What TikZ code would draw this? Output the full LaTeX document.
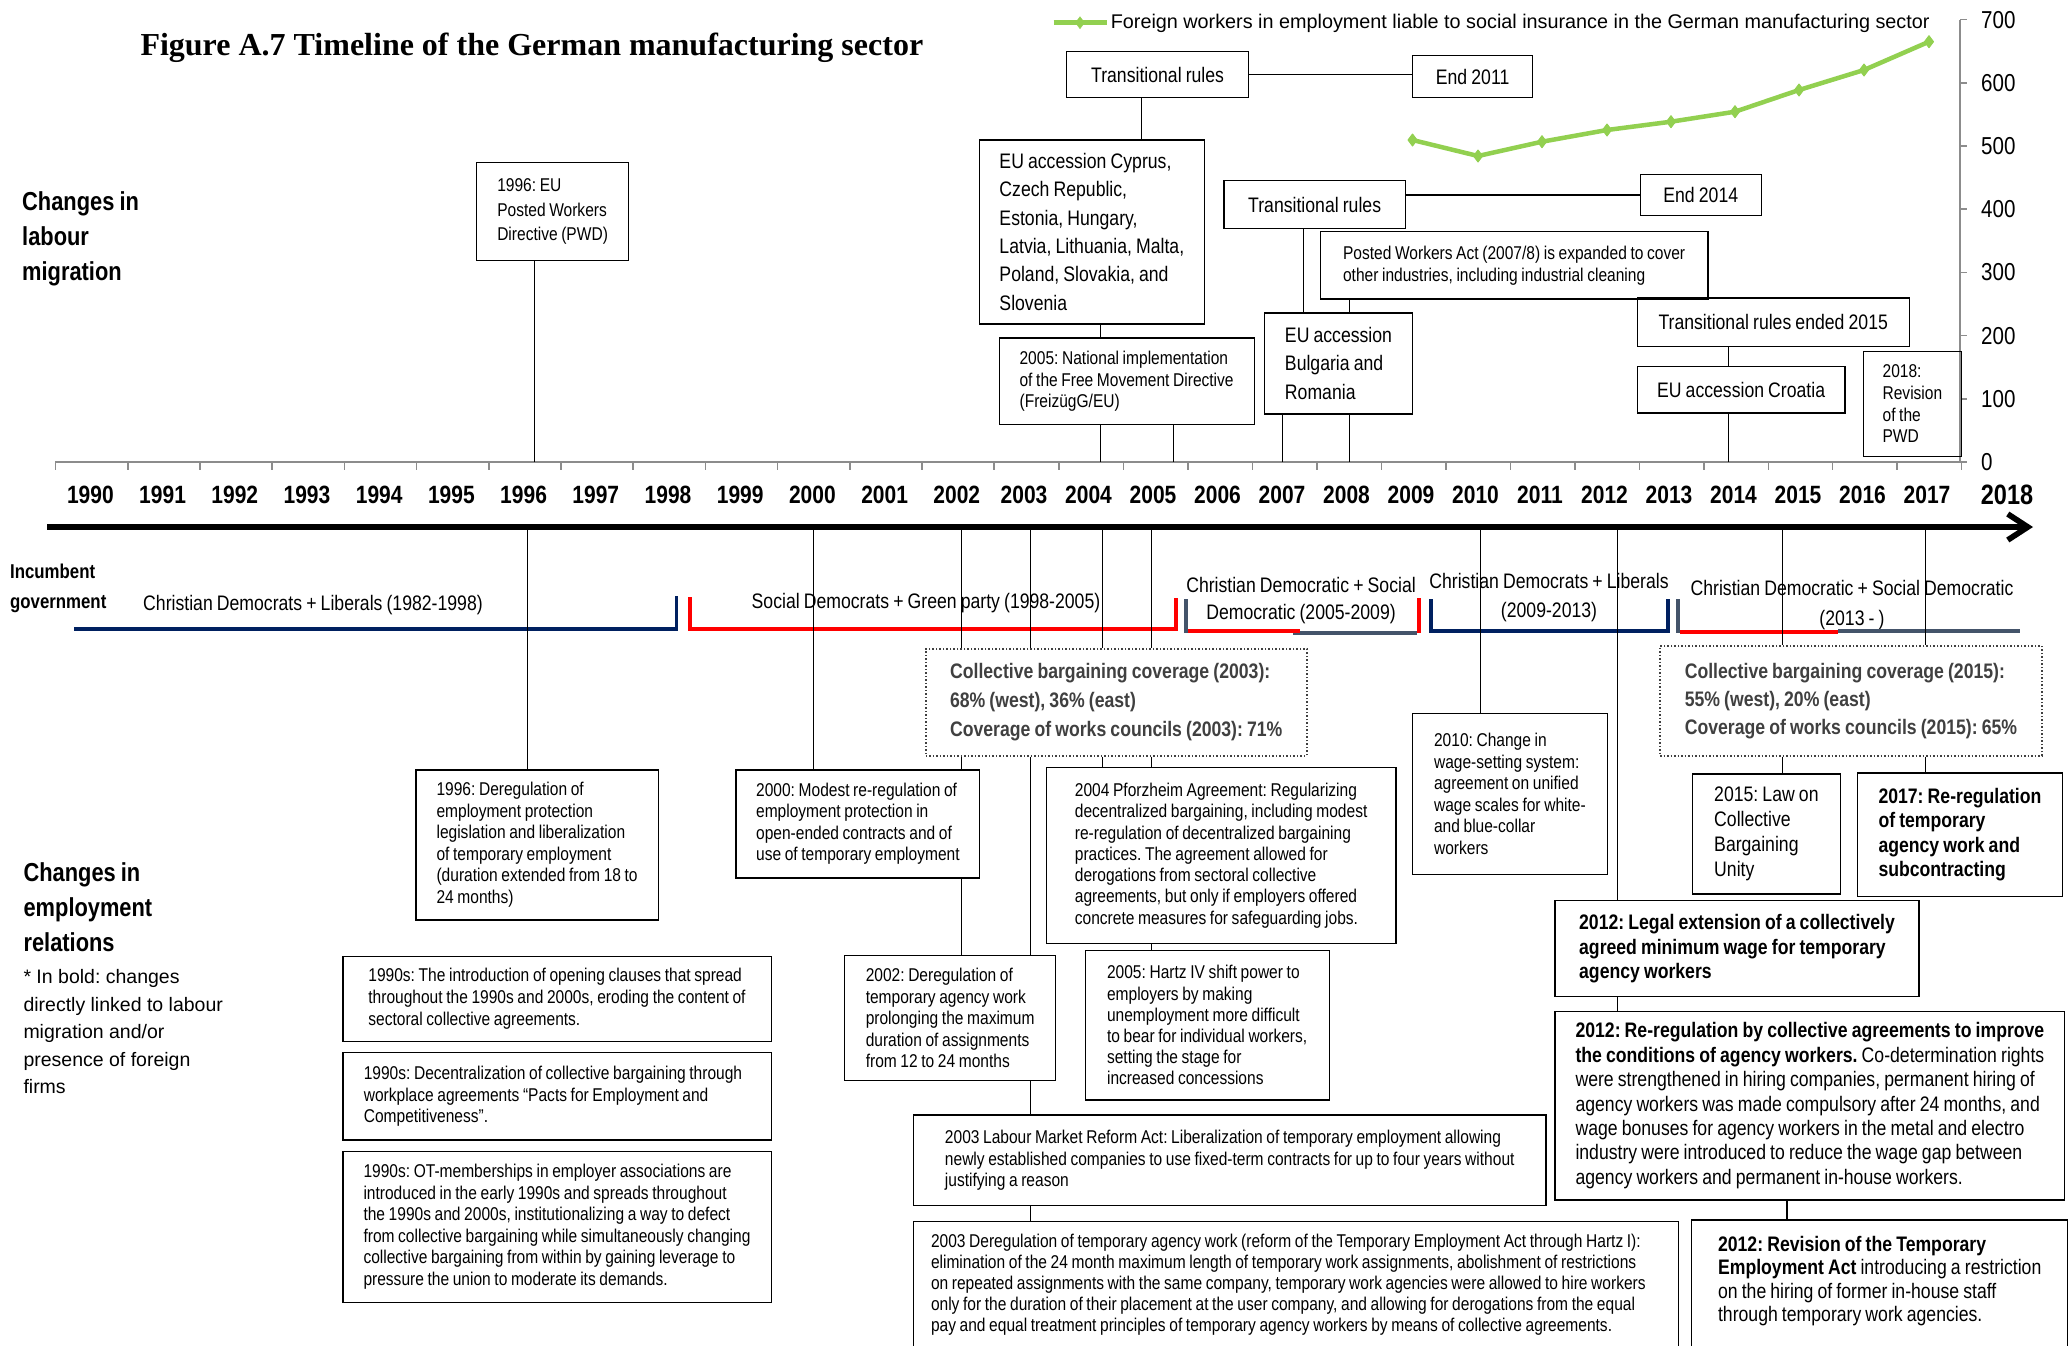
\documentclass[tikz,border=0pt]{standalone}
\usepackage{fontspec}
\newfontfamily\nar{Liberation Sans}[FakeStretch=0.84, WordSpace=0.84]
\newfontfamily\arl{Liberation Sans}
\newfontfamily\tnr{Liberation Serif}
\usetikzlibrary{arrows.meta,plotmarks}
\definecolor{navyg}{HTML}{002060}
\definecolor{redg}{HTML}{FF0000}
\definecolor{slateg}{HTML}{44546A}
\definecolor{greenl}{HTML}{92D050}
\definecolor{axgrey}{HTML}{8C8C8C}
\definecolor{dgrey}{HTML}{404040}
\newcommand{\myfs}[2]{\fontsize{#1}{#2}\selectfont}
\begin{document}
\frenchspacing
\hyphenpenalty=10000
\exhyphenpenalty=10000
\begin{tikzpicture}[x=1pt,y=-1pt,
  bx/.style={draw=black, line width=1.2pt, inner sep=0pt, anchor=north west, align=left},
  cbx/.style={draw=black, line width=1.2pt, inner sep=0pt, anchor=north west, align=center},
  dbx/.style={draw=black!75, dotted, line width=1.5pt, inner sep=0pt, anchor=north west, align=left, text=dgrey},
  conn/.style={draw=black, line width=1pt},
  sm/.style={font=\nar\myfs{18.5}{21.5}},
  md/.style={font=\nar\myfs{21}{28.3}},
  bd/.style={font=\nar\bfseries\myfs{21}{24.4}},
  gov/.style={line width=3.7pt},
  lbl/.style={anchor=west, align=left, inner sep=0pt},
]
\fill[white] (0,0) rectangle (2069,1345);
\useasboundingbox (0,0) rectangle (2069,1345);

% ---------- title and left labels
\node[lbl, font=\tnr\bfseries\myfs{32}{38}] (title) at (140.3,48) {Figure A.7 Timeline of the German manufacturing sector};
\node[lbl, font=\nar\bfseries\myfs{26}{35}] (lab1) at (22,239) {Changes in\\labour\\migration};
\node[lbl, font=\nar\bfseries\myfs{26}{35}] (lab2) at (23.4,906.7) {Changes in\\employment\\relations};
\node[lbl, font=\arl\myfs{19.5}{27.4}] (lab3) at (23.3,1031.7) {* In bold: changes\\directly linked to labour\\migration and/or\\presence of foreign\\firms};
\node[lbl, font=\nar\bfseries\myfs{20}{30}] (lab4) at (10,588) {Incumbent\\government};

% ---------- axis with ticks
\coordinate (axL) at (55,462);
\coordinate (axR) at (1961,462);
\draw[axgrey, line width=2pt] (axL) -- (axR);
\foreach \i in {0,...,13} \draw[axgrey, line width=1.5pt] ({55.6+72.2*\i},462) -- ({55.6+72.2*\i},470);
\foreach \i in {1,...,15} \draw[axgrey, line width=1.5pt] ({994.6+64.47*\i},462) -- ({994.6+64.47*\i},470);
\foreach \i in {0,...,12} {
  \pgfmathtruncatemacro\yr{1990+\i}
  \node[font=\nar\bfseries\myfs{25}{30}] (ya\i) at ({90.4+72.2*\i},495) {\yr};
}
\foreach \i in {0,...,14} {
  \pgfmathtruncatemacro\yr{2003+\i}
  \node[font=\nar\bfseries\myfs{25}{30}] (yb\i) at ({1024+64.5*\i},495) {\yr};
}
\node[font=\nar\bfseries\myfs{28}{32}] (y2018) at (2007,495) {2018};

% ---------- main arrow
\coordinate (arrL) at (47,527);
\coordinate (arrR) at (2033,527);
\draw[line width=5.7pt, -{Straight Barb[length=20pt,width=26pt]}] (arrL) -- (arrR);

% ---------- value axis and chart
\draw[axgrey, line width=1.5pt] (1960,462) -- (1960,20);
\foreach \v in {0,...,7} {
  \draw[axgrey, line width=1.5pt] (1960,{462-63.2*\v}) -- (1967,{462-63.2*\v});
  \pgfmathtruncatemacro\val{100*\v}
  \node[lbl, font=\nar\myfs{24.5}{28}] (val\v) at (1981,{462-63.2*\v}) {\val};
}
\draw[greenl, line width=4.5pt, line join=round, mark=diamond*, mark size=6pt, mark options={fill=greenl, draw=greenl, line width=1pt}]
  plot coordinates {(1412.5,140) (1478,156) (1542,141.7) (1607,130) (1671,121.7) (1735,111.7) (1799,90) (1864,70) (1929,41.7)};
\draw[greenl, line width=4.5pt] (1053.5,22.7) -- (1107,22.7);
\path[greenl] plot[mark=diamond*, mark size=6pt, mark options={fill=greenl, draw=greenl}] coordinates {(1080,22.7)};
\node[lbl, font=\arl\myfs{19.8}{24}] (legtxt) at (1110.6,23) {Foreign workers in employment liable to social insurance in the German manufacturing sector};

% ---------- upper boxes
\node[cbx, minimum width=182pt, minimum height=46pt, md] (tr1) at (1066,51) {Transitional rules};
\node[cbx, minimum width=120pt, minimum height=42pt, md] (end11) at (1412,55) {End 2011};
\node[bx, minimum width=225.5pt, minimum height=184pt, md] (euacc) at (978.5,139.3) {EU accession Cyprus,\\Czech Republic,\\Estonia, Hungary,\\Latvia, Lithuania, Malta,\\Poland, Slovakia, and\\Slovenia};
\node[bx, minimum width=255pt, minimum height=86.7pt, sm] (nat05) at (998.5,337.3) {2005: National implementation\\of the Free Movement Directive\\(FreizügG/EU)};
\node[cbx, minimum width=181.3pt, minimum height=48pt, md] (tr2) at (1223.4,180) {Transitional rules};
\node[cbx, minimum width=121.3pt, minimum height=41pt, md] (end14) at (1639.5,174) {End 2014};
\node[bx, minimum width=387.6pt, minimum height=67.3pt, font=\nar\myfs{18.5}{22}] (posted) at (1319.7,231) {Posted Workers Act (2007/8) is expanded to cover\\other industries, including industrial cleaning};
\node[bx, minimum width=147.8pt, minimum height=101pt, font=\nar\myfs{21}{28.5}] (bulg) at (1264,312.3) {EU accession\\Bulgaria and\\Romania};
\node[cbx, minimum width=272pt, minimum height=48.4pt, md] (tr15) at (1636.6,297.3) {Transitional rules ended 2015};
\node[cbx, minimum width=207.8pt, minimum height=46.3pt, md] (croatia) at (1636.6,366) {EU accession Croatia};
\node[bx, minimum width=97.8pt, minimum height=105.3pt, font=\nar\myfs{18.5}{21.7}] (pwd18) at (1862.9,350.7) {2018:\\Revision\\of the\\PWD};
\node[bx, minimum width=152pt, minimum height=98pt, font=\nar\myfs{18.5}{24.5}] (eu96) at (476,162) {1996: EU\\Posted Workers\\Directive (PWD)};

% ---------- upper connectors
\coordinate (k96) at (534.4,0);
\coordinate (kA) at (1141,0);
\coordinate (kB) at (1100.6,0);
\coordinate (kC) at (1173.4,0);
\coordinate (kD) at (1303.3,0);
\coordinate (kE) at (1349.7,0);
\coordinate (kF) at (1282.6,0);
\coordinate (kG) at (1728.7,0);
\draw[conn] (eu96.south -| k96) -- (axL -| k96);
\draw[conn, line width=1.6pt] (tr1.east) -- (tr1.east -| end11.west);
\draw[conn] (tr1.south -| kA) -- (euacc.north -| kA);
\draw[conn] (euacc.south -| kB) -- (nat05.north -| kB);
\draw[conn] (nat05.south -| kB) -- (axL -| kB);
\draw[conn] (nat05.south -| kC) -- (axL -| kC);
\draw[conn, line width=1.6pt] (end14.west) -- (end14.west -| tr2.east);
\draw[conn] (tr2.south -| kD) -- (bulg.north -| kD);
\draw[conn] (posted.south -| kE) -- (bulg.north -| kE);
\draw[conn] (bulg.south -| kF) -- (axL -| kF);
\draw[conn] (bulg.south -| kE) -- (axL -| kE);
\draw[conn] (tr15.south -| kG) -- (croatia.north -| kG);
\draw[conn] (croatia.south -| kG) -- (axL -| kG);

% ---------- governments
\node[font=\nar\myfs{21}{27}] (gov1) at (313,605) {Christian Democrats + Liberals (1982-1998)};
\node[font=\nar\myfs{21}{27}] (gov2) at (926,603) {Social Democrats + Green party (1998-2005)};
\node[align=center, font=\nar\myfs{21}{27}] (gov3) at (1301,600.5) {Christian Democratic + Social\\Democratic (2005-2009)};
\node[align=center, font=\nar\myfs{21}{29}] (gov4) at (1549,597.5) {Christian Democrats + Liberals\\(2009-2013)};
\node[align=center, font=\nar\myfs{21}{30}] (gov5) at (1852,605) {Christian Democratic + Social Democratic\\(2013 - )};
\draw[gov, navyg] (74,628.7) -- (676.5,628.7) -- (676.5,596);
\draw[gov, redg] (690,597) -- (690,628.7) -- (1176,628.7) -- (1176,598);
\draw[gov, slateg] (1186,599) -- (1186,633);
\draw[gov, slateg] (1293,633) -- (1417,633);
\draw[gov, redg] (1188,631) -- (1300,631);
\draw[gov, redg] (1419,598) -- (1419,633);
\draw[gov, navyg] (1431,599) -- (1431,631) -- (1668,631) -- (1668,599);
\draw[gov, slateg] (1678,599) -- (1678,633);
\draw[gov, slateg] (1838,631) -- (2020,631);
\draw[gov, redg] (1680,632) -- (1838,632);

% ---------- lower boxes
\node[bx, minimum width=242.4pt, minimum height=150pt, sm] (dereg96) at (415.3,769.3) {1996: Deregulation of\\employment protection\\legislation and liberalization\\of temporary employment\\(duration extended from 18 to\\24 months)};
\node[bx, minimum width=243.8pt, minimum height=108pt, sm] (reg00) at (735.4,769.3) {2000: Modest re-regulation of\\employment protection in\\open-ended contracts and of\\use of temporary employment};
\node[dbx, minimum width=381pt, minimum height=107pt, font=\nar\bfseries\myfs{21}{28.7}] (cov03) at (925,648) {Collective bargaining coverage (2003):\\68\% (west), 36\% (east)\\Coverage of works councils (2003): 71\%};
\node[bx, minimum width=349.7pt, minimum height=176pt, font=\nar\myfs{18.5}{21.3}] (pforz) at (1045.7,767) {2004 Pforzheim Agreement: Regularizing\\decentralized bargaining, including modest\\re-regulation of decentralized bargaining\\practices. The agreement allowed for\\derogations from sectoral collective\\agreements, but only if employers offered\\concrete measures for safeguarding jobs.};
\node[bx, minimum width=244.1pt, minimum height=149.3pt, font=\nar\myfs{18.5}{21.2}] (hartz) at (1084.5,950) {2005: Hartz IV shift power to\\employers by making\\unemployment more difficult\\to bear for individual workers,\\setting the stage for\\increased concessions};
\node[bx, minimum width=211.3pt, minimum height=125pt, sm] (reg02) at (843.9,955) {2002: Deregulation of\\temporary agency work\\prolonging the maximum\\duration of assignments\\from 12 to 24 months};
\node[bx, minimum width=632.3pt, minimum height=90.7pt, sm] (lmra03) at (913,1114.3) {2003 Labour Market Reform Act: Liberalization of temporary employment allowing\\newly established companies to use fixed-term contracts for up to four years without\hspace*{30pt}\\justifying a reason};
\node[bx, minimum width=764.6pt, minimum height=126.2pt, font=\nar\myfs{18.5}{21.1}] (dereg03) at (913,1220.7) {2003 Deregulation of temporary agency work (reform of the Temporary Employment Act through Hartz I):\hspace*{20pt}\\elimination of the 24 month maximum length of temporary work assignments, abolishment of restrictions\\on repeated assignments with the same company, temporary work agencies were allowed to hire workers\\only for the duration of their placement at the user company, and allowing for derogations from the equal\\pay and equal treatment principles of temporary agency workers by means of collective agreements.};
\node[bx, minimum width=428.2pt, minimum height=85pt, font=\nar\myfs{18.5}{21.8}] (b90a) at (342.3,955.7) {1990s: The introduction of opening clauses that spread\\throughout the 1990s and 2000s, eroding the content of\hspace*{10pt}\\sectoral collective agreements.};
\node[bx, minimum width=428.2pt, minimum height=87.3pt, font=\nar\myfs{18.5}{21.2}] (b90b) at (342.3,1052) {1990s: Decentralization of collective bargaining through\hspace*{8pt}\\workplace agreements “Pacts for Employment and\\Competitiveness”.};
\node[bx, minimum width=428.2pt, minimum height=151pt, font=\nar\myfs{18.5}{21.5}] (b90c) at (342.3,1150.7) {1990s: OT-memberships in employer associations are\\introduced in the early 1990s and spreads throughout\\the 1990s and 2000s, institutionalizing a way to defect\\from collective bargaining while simultaneously changing\\collective bargaining from within by gaining leverage to\\pressure the union to moderate its demands.};
\node[bx, minimum width=195.4pt, minimum height=161.3pt, sm] (wage10) at (1411.6,712.7) {2010: Change in\\wage-setting system:\\agreement on unified\\wage scales for white-\\and blue-collar\\workers};
\node[dbx, minimum width=381.6pt, minimum height=110pt, font=\nar\bfseries\myfs{21}{28}] (cov15) at (1659.4,645) {Collective bargaining coverage (2015):\\55\% (west), 20\% (east)\\Coverage of works councils (2015): 65\%};
\node[bx, minimum width=147.6pt, minimum height=120pt, font=\nar\myfs{21}{24.8}] (law15) at (1692,773.3) {2015: Law on\\Collective\\Bargaining\\Unity};
\node[bx, minimum width=205.3pt, minimum height=123.7pt, bd] (rereg17) at (1856.7,772.3) {2017: Re-regulation\\of temporary\\agency work and\\subcontracting};
\node[bx, minimum width=364pt, minimum height=96pt, bd] (legal12) at (1554.4,900) {2012: Legal extension of a collectively\\agreed minimum wage for temporary\\agency workers};
\node[bx, minimum width=509.8pt, minimum height=188.6pt, font=\nar\myfs{21}{24.4}] (rereg12) at (1554.4,1010.7) {\textbf{2012: Re-regulation by collective agreements to improve}\\\textbf{the conditions of agency workers.} Co-determination rights\\were strengthened in hiring companies, permanent hiring of\\agency workers was made compulsory after 24 months, and\\wage bonuses for agency workers in the metal and electro\\industry were introduced to reduce the wage gap between\\agency workers and permanent in-house workers.};
\node[bx, minimum width=375.8pt, minimum height=141pt, font=\nar\myfs{21}{23.5}] (rev12) at (1691.2,1219.3) {\textbf{2012: Revision of the Temporary}\\\textbf{Employment Act} introducing a restriction\\on the hiring of former in-house staff\\through temporary work agencies.\\\rule{0pt}{10pt}};

% ---------- lower connectors
\coordinate (m96) at (527.8,0);
\coordinate (m00) at (813.8,0);
\coordinate (m02) at (961,0);
\coordinate (m03) at (1030,0);
\coordinate (m04) at (1102.7,0);
\coordinate (m05) at (1151.7,0);
\coordinate (m10) at (1480.6,0);
\coordinate (m12) at (1617,0);
\coordinate (m15) at (1782,0);
\coordinate (m17) at (1925,0);
\coordinate (mR) at (1787.4,0);
\draw[conn] (arrL -| m96) -- (dereg96.north -| m96);
\draw[conn] (arrL -| m00) -- (reg00.north -| m00);
\draw[conn] (arrL -| m02) -- (cov03.north -| m02);
\draw[conn] (cov03.south -| m02) -- (reg00.north -| m02);
\draw[conn] (reg00.south -| m02) -- (reg02.north -| m02);
\draw[conn] (arrL -| m03) -- (cov03.north -| m03);
\draw[conn] (cov03.south -| m03) -- (reg02.north -| m03);
\draw[conn] (reg02.south -| m03) -- (lmra03.north -| m03);
\draw[conn] (lmra03.south -| m03) -- (dereg03.north -| m03);
\draw[conn] (arrL -| m04) -- (cov03.north -| m04);
\draw[conn] (cov03.south -| m04) -- (pforz.north -| m04);
\draw[conn] (arrL -| m05) -- (cov03.north -| m05);
\draw[conn] (cov03.south -| m05) -- (pforz.north -| m05);
\draw[conn] (pforz.south -| m05) -- (hartz.north -| m05);
\draw[conn] (arrL -| m10) -- (wage10.north -| m10);
\draw[conn] (arrL -| m12) -- (legal12.north -| m12);
\draw[conn] (legal12.south -| m12) -- (rereg12.north -| m12);
\draw[conn] (arrL -| m15) -- (cov15.north -| m15);
\draw[conn] (cov15.south -| m15) -- (law15.north -| m15);
\draw[conn] (arrL -| m17) -- (cov15.north -| m17);
\draw[conn] (cov15.south -| m17) -- (rereg17.north -| m17);
\draw[conn, line width=2pt] (rereg12.south -| mR) -- (rev12.north -| mR);
\end{tikzpicture}
\end{document}
